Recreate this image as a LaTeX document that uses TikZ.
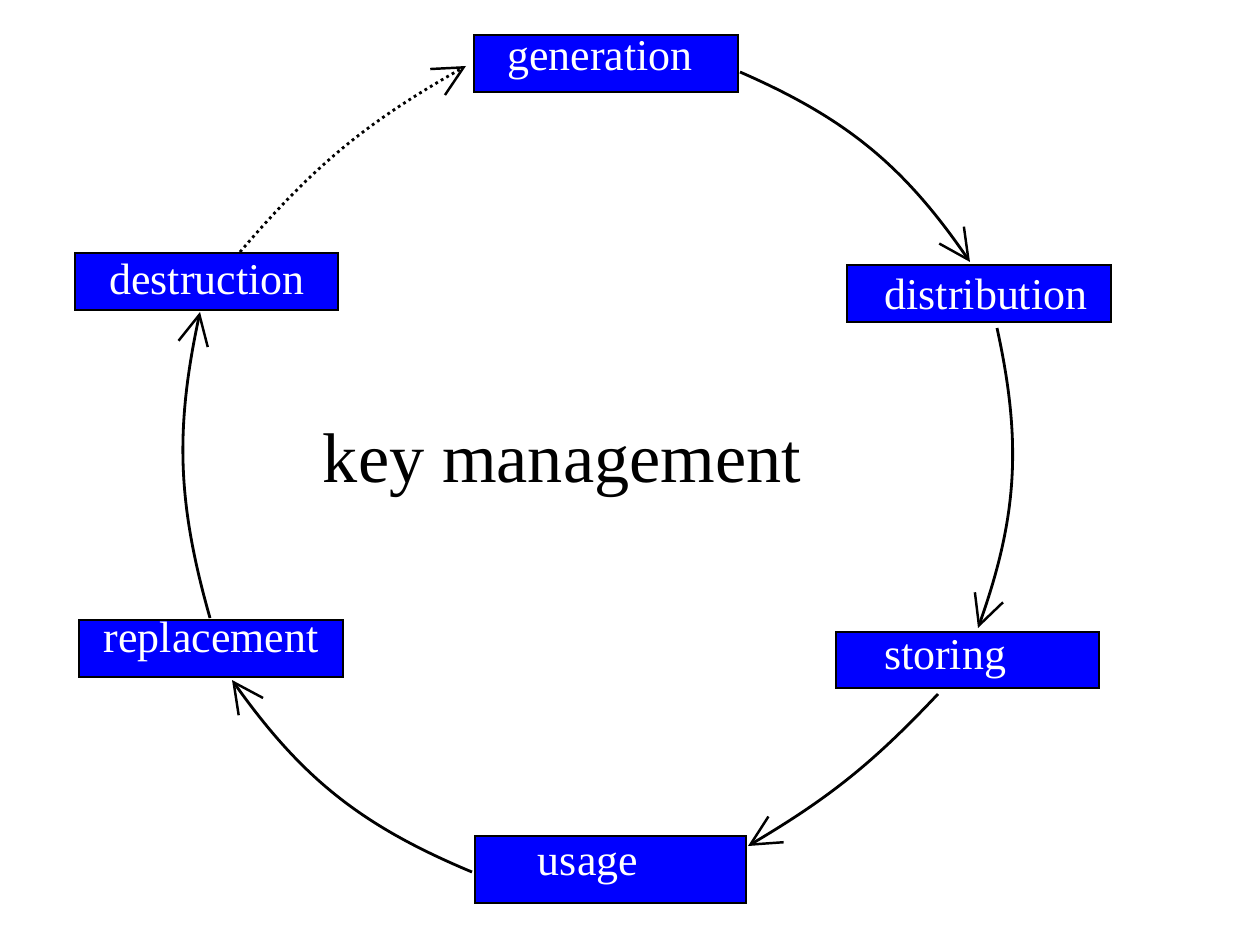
\documentclass[tikz,border=0pt]{standalone}
\usepackage{fontspec}
\setmainfont{Liberation Serif}
\usetikzlibrary{arrows.meta}
\begin{document}
\begin{tikzpicture}[x=0.02cm,y=-0.02cm,
  box/.style={draw=black,fill=blue,line width=0.6pt},
  lbl/.style={text=white,font=\fontsize{25}{28}\selectfont,inner sep=0},
  conn/.style={line width=1.6pt,-{Straight Barb[length=17pt,width=17pt,line width=1.4pt]}}]
\useasboundingbox (0,0) rectangle (1242,939);
\fill[white] (0,0) rectangle (1242,939);
\draw[box] (474,35) rectangle (738,92);
\draw[box] (847,265) rectangle (1111,322);
\draw[box] (836,632) rectangle (1099,688);
\draw[box] (475,836) rectangle (746,903);
\draw[box] (79,620) rectangle (343,677);
\draw[box] (75,253) rectangle (338,310);
\node[lbl] (gen) at (600,61) {generation};
\node[lbl] (dis) at (986,294) {distribution};
\node[lbl] (sto) at (945,660) {storing};
\node[lbl] (usa) at (588,869) {usage};
\node[lbl] (rep) at (211,642) {replacement};
\node[lbl] (des) at (207,279) {destruction};
\node[font=\fontsize{40}{44}\selectfont] (km) at (562,466) {key management};
\coordinate (g1) at (740,72); \coordinate (d0) at (970,262);
\coordinate (d1) at (997,328); \coordinate (s0) at (978,628);
\coordinate (s1) at (938,694); \coordinate (u0) at (748,846);
\coordinate (u1) at (472,872); \coordinate (r0) at (232,680);
\coordinate (r1) at (210,618); \coordinate (e0) at (200,312);
\coordinate (e1) at (240,252); \coordinate (g0) at (466,66);
\draw[conn] (g1) to[bend left=16] (d0);
\draw[conn] (d1) to[bend left=16] (s0);
\draw[conn] (s1) to[bend left=8] (u0);
\draw[conn] (u1) to[bend left=16] (r0);
\draw[conn] (r1) to[bend left=14] (e0);
\draw[conn,dotted] (e1) to[bend left=10] (g0);
\end{tikzpicture}
\end{document}
